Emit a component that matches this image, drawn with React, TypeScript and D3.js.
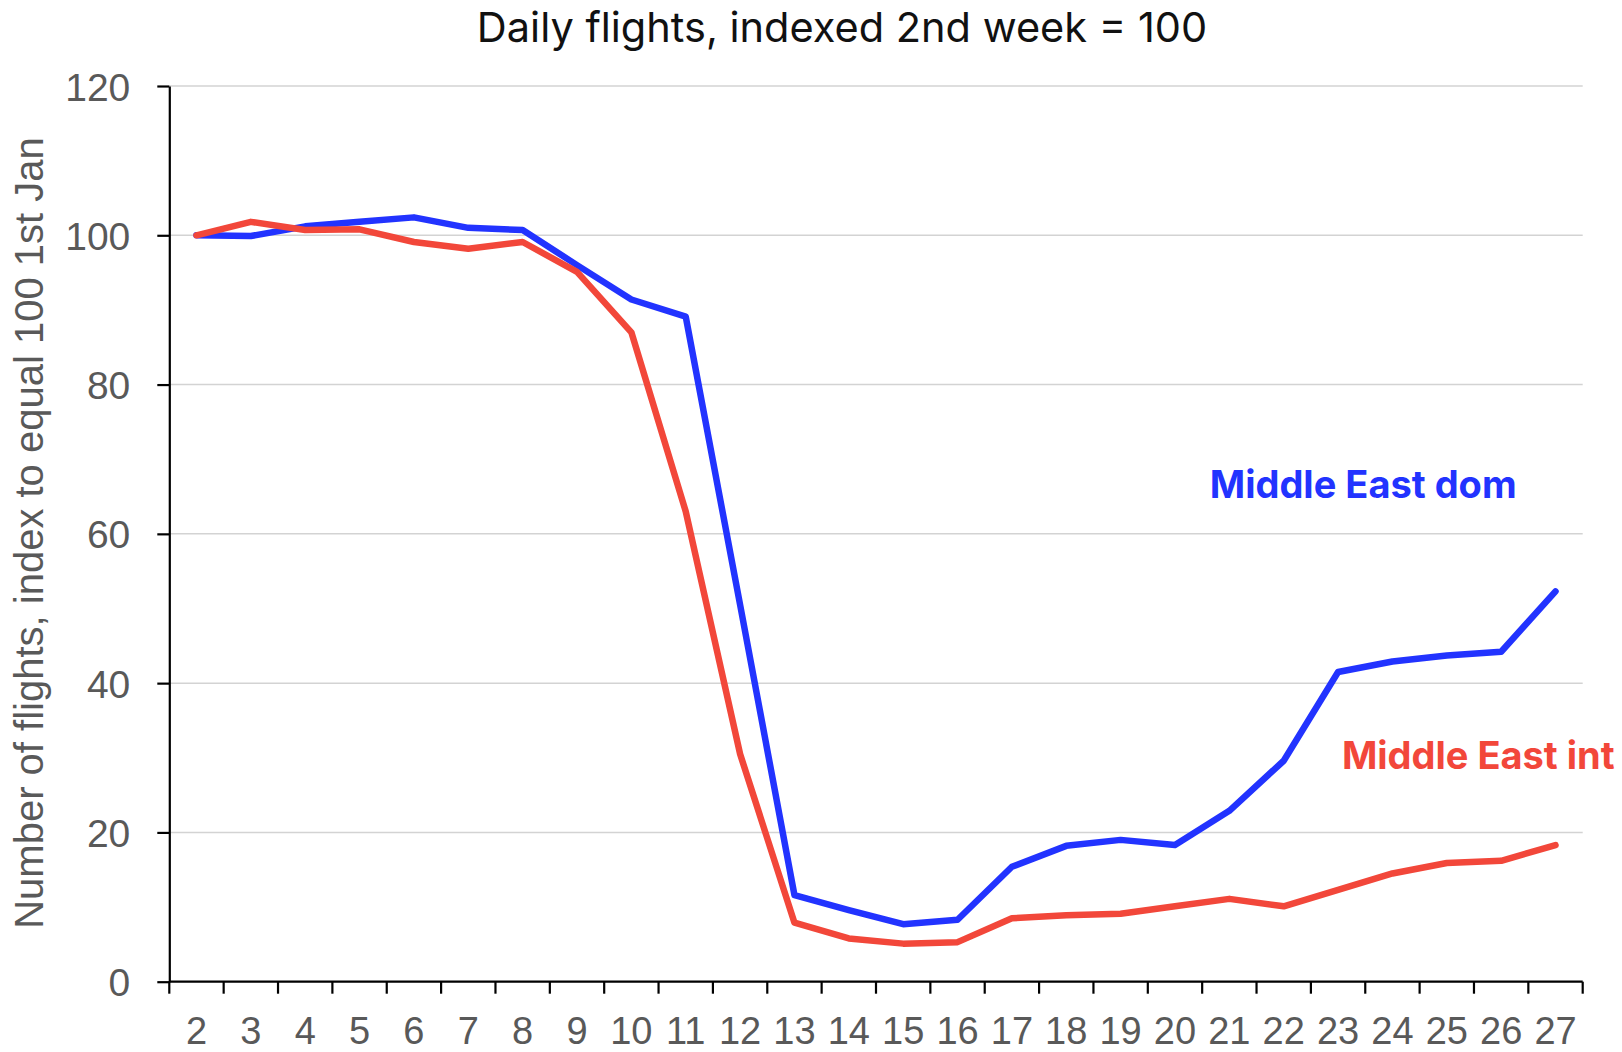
import { useEffect, useRef } from "react"
import * as d3 from "d3"

// days of the month shown on the x axis
const days = [2, 3, 4, 5, 6, 7, 8, 9, 10, 11, 12, 13, 14, 15, 16, 17, 18, 19, 20, 21, 22, 23, 24, 25, 26, 27]

const domValues = [
  100, 99.9, 101.2, 101.8, 102.4, 101.0, 100.7, 96.0, 91.4, 89.1, 50.5, 11.6, 9.6, 7.7, 8.3, 15.4, 18.2, 19.0, 18.3,
  22.9, 29.6, 41.5, 42.9, 43.7, 44.2, 52.3,
]

const intValues = [
  100, 101.8, 100.7, 100.8, 99.1, 98.2, 99.1, 95.1, 87.0, 63.0, 30.5, 7.9, 5.8, 5.1, 5.3, 8.5, 8.9, 9.1, 10.1, 11.1,
  10.1, 12.3, 14.5, 15.9, 16.2, 18.3,
]

const yTicks = [0, 20, 40, 60, 80, 100, 120]

const series = [
  { name: "Middle East dom", values: domValues, color: "#2233ff", labelDay: 20.64, labelValue: 64.8 },
  { name: "Middle East int", values: intValues, color: "#f2473a", labelDay: 23.07, labelValue: 28.5 },
]

export default function App() {
  const svgRef = useRef<SVGSVGElement>(null)

  useEffect(() => {
    if (!svgRef.current) return
    const svg = d3.select(svgRef.current)
    svg.selectAll("*").remove()

    const left = 169.3
    const right = 1582.7
    const top = 86
    const bottom = 981.7

    const x = d3
      .scaleBand<number>()
      .domain(days)
      .range([left, right])
      .padding(0)
    const xMid = (d: number) => (x(d) || 0) + x.bandwidth() / 2
    // continuous version of the x scale, for placing annotations between days
    const xLin = d3.scaleLinear().domain([days[0] - 0.5, days[days.length - 1] + 0.5]).range([left, right])

    const y = d3.scaleLinear().domain([0, 120]).range([bottom, top])

    // gridlines
    svg
      .append("g")
      .selectAll("line")
      .data(yTicks.filter((t) => t > 0))
      .enter()
      .append("line")
      .attr("x1", left)
      .attr("x2", right)
      .attr("y1", (d) => y(d))
      .attr("y2", (d) => y(d))
      .attr("stroke", "#d3d3d3")
      .attr("stroke-width", 1.5)

    // y axis
    const yAxis = svg
      .append("g")
      .attr("transform", `translate(${left},0)`)
      .call(d3.axisLeft(y).tickValues(yTicks).tickSize(12).tickPadding(27).tickSizeOuter(0))
    yAxis.select(".domain").attr("stroke", "#000").attr("stroke-width", 2.2)
    yAxis.selectAll(".tick line").attr("stroke", "#000").attr("stroke-width", 2.2)
    yAxis
      .selectAll("text")
      .attr("fill", "#595959")
      .style("font-family", "'Liberation Sans', Arial, sans-serif")
      .style("font-size", "39px")
      .attr("dy", "0.36em")

    // x axis, ticks on the day boundaries
    const xAxisG = svg.append("g").attr("transform", `translate(0,${bottom})`)
    xAxisG
      .append("line")
      .attr("x1", left)
      .attr("x2", right)
      .attr("stroke", "#000")
      .attr("stroke-width", 2.2)
    xAxisG
      .selectAll("line.tick")
      .data(d3.range(days.length + 1))
      .enter()
      .append("line")
      .attr("class", "tick")
      .attr("x1", (i) => xLin(days[0] - 0.5 + i))
      .attr("x2", (i) => xLin(days[0] - 0.5 + i))
      .attr("y1", 0)
      .attr("y2", 12)
      .attr("stroke", "#000")
      .attr("stroke-width", 2.2)
    xAxisG
      .selectAll("text")
      .data(days)
      .enter()
      .append("text")
      .attr("x", (d) => xMid(d))
      .attr("y", 62)
      .attr("text-anchor", "middle")
      .attr("fill", "#595959")
      .style("font-family", "'Liberation Sans', Arial, sans-serif")
      .style("font-size", "38px")
      .text((d) => d)

    // lines
    series.forEach((s) => {
      const line = d3
        .line<number>()
        .x((_, i) => xMid(days[i]))
        .y((v) => y(v))

      svg
        .append("path")
        .datum(s.values)
        .attr("fill", "none")
        .attr("stroke", s.color)
        .attr("stroke-width", 6.5)
        .attr("stroke-linejoin", "round")
        .attr("stroke-linecap", "round")
        .attr("d", line)

      svg
        .append("text")
        .attr("x", xLin(s.labelDay))
        .attr("y", y(s.labelValue))
        .attr("fill", s.color)
        .style("font-family", "Inter, sans-serif")
        .style("font-weight", "700")
        .style("font-size", "38px")
        .text(s.name)
    })

    // title
    svg
      .append("text")
      .attr("x", 842)
      .attr("y", 41.7)
      .attr("text-anchor", "middle")
      .attr("fill", "#111")
      .style("font-family", "Inter, sans-serif")
      .style("font-size", "41.5px")
      .text("Daily flights, indexed 2nd week = 100")

    // y axis title
    svg
      .append("text")
      .attr("transform", `translate(43.3,533) rotate(-90)`)
      .attr("text-anchor", "middle")
      .attr("fill", "#595959")
      .style("font-family", "'Liberation Sans', Arial, sans-serif")
      .style("font-size", "40px")
      .text("Number of flights, index to equal 100 1st Jan")
  }, [])

  return (
    <div style={{ position: "absolute", left: 0, top: 0 }}>
      <svg ref={svgRef} width={1622} height={1052} style={{ display: "block", background: "#fff" }}></svg>
    </div>
  )
}
